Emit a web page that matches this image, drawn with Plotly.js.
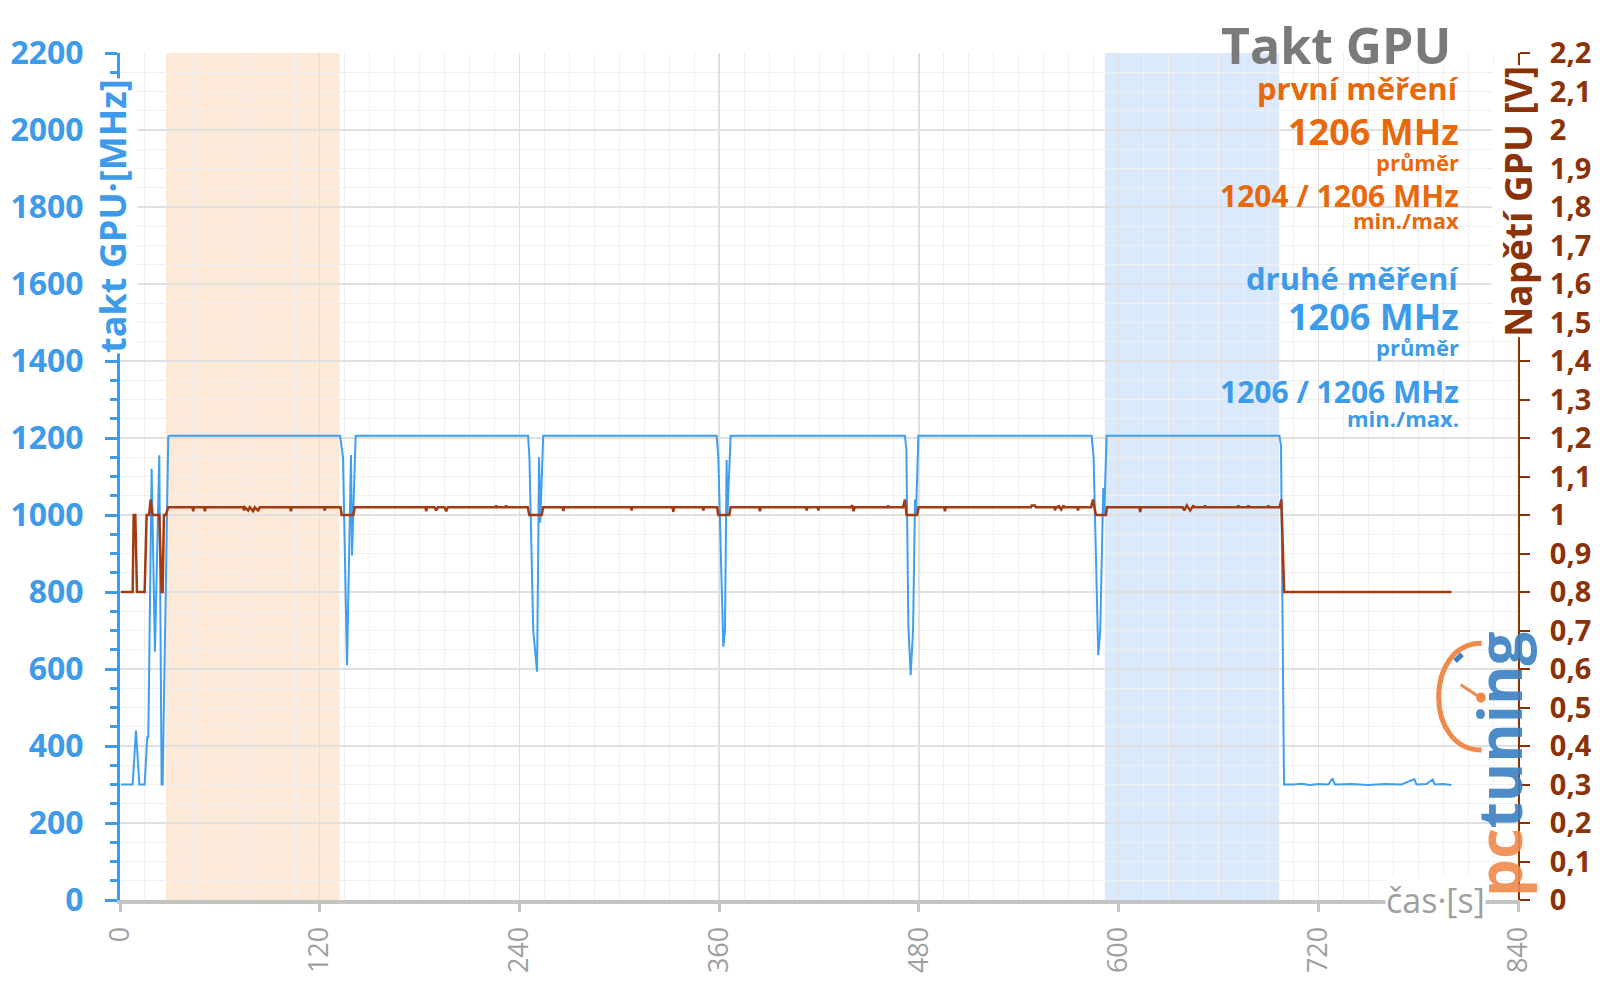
<!DOCTYPE html>
<html>
<head>
<meta charset="utf-8">
<script src="https://cdn.plot.ly/plotly-3.0.1.min.js"></script>
<style>
  html, body { margin: 0; padding: 0; background: #fff; }
  #myDiv { width: 1600px; height: 999px; }
</style>
</head>
<body>
<div id="myDiv"></div>
<script>
// takt GPU [MHz] - time in s
var clockTime = [0.5, 7.6, 9.6, 11.6, 14.8, 16.4, 17, 19, 21, 23.6, 25, 25.6, 29, 30,
  132.2, 133.5, 134, 136.4, 137.5, 138.8, 139.4, 141.6,
  245.2, 246, 248.3, 250.6, 251.8, 252.5, 254.3,
  358.5, 359.5, 362.5, 363.5, 364.5, 365, 366.9,
  471.6, 472.5, 473.7, 475.1, 476.5, 477.7, 478.3, 479.7,
  583.8, 585, 587.8, 589, 590.8, 591.4, 592.8,
  696.6, 697.6, 698.6, 699.4,
  705, 710, 715, 720, 726, 728.6, 730, 740, 750, 760, 770, 777.7, 779, 785, 788.7, 790, 795, 800];
var clockMHz = [300, 300, 440, 300, 300, 425, 420, 1120, 645, 1155, 300, 300, 1204, 1206,
  1206, 1160, 1150, 610, 900, 1156, 895, 1206,
  1206, 1150, 700, 593, 1150, 980, 1206,
  1206, 1150, 658, 700, 1143, 1000, 1206,
  1206, 1170, 710, 584, 700, 1040, 1000, 1206,
  1206, 1150, 636, 700, 1070, 1000, 1206,
  1206, 1180, 700, 300,
  300, 302, 299, 301, 300, 316, 300, 301, 299, 301, 300, 314, 300, 301, 313, 300, 301, 299];

// Napětí GPU [V]
var voltTime = [0.5, 7.6, 8.2, 9.2, 10.2, 14.8, 16, 17.5, 18.4, 19.6, 23.6, 25, 25.6, 26.4, 27.5, 29,
  43.5, 44, 44.5, 50.5, 51, 51.5, 74, 74.5, 75, 77, 78, 80, 81, 83, 84, 102.2, 102.7, 103.2, 122.5, 123, 123.5,
  132.5, 133.2, 140.2, 141,
  183.5, 184, 184.5, 189, 190, 191, 195, 196, 197, 225.5, 226, 226.5, 231.5, 232, 232.5,
  245, 245.9, 253.4, 254.2,
  266, 266.4, 266.8, 307, 307.4, 307.8, 332, 332.4, 333, 350, 350.5, 351,
  358.8, 359.5, 366.1, 366.9,
  384, 384.5, 385, 412.2, 412.6, 413, 419.2, 419.6, 420, 439, 440, 440.8, 441.5, 461, 461.5, 462, 470.5, 471.6, 472.6, 479, 479.8,
  495.2, 495.7, 496.2, 547.3, 547.8, 549.8, 550.3, 561.5, 561.8, 562.3, 563.5, 564, 565.5, 567, 567.5, 575.2, 575.6, 576, 583.5, 584.6, 586.4, 592.4, 593,
  612.5, 613, 613.5, 638.5, 639.5, 640.5, 641, 643, 644.5, 645, 645.5, 651.5, 652, 652.5, 671.5, 672, 672.5, 677.5, 678, 678.5, 689.5, 690, 690.5, 696.8, 697.8, 699.5, 800];
var voltV = [0.8, 0.8, 1.0, 1.0, 0.8, 0.8, 1.0, 1.0, 1.04, 1.0, 1.0, 0.8, 0.8, 1.0, 1.0, 1.02,
  1.02, 1.01, 1.02, 1.02, 1.01, 1.02, 1.02, 1.012, 1.02, 1.012, 1.02, 1.01, 1.02, 1.012, 1.02, 1.02, 1.01, 1.02, 1.02, 1.012, 1.02,
  1.02, 1.0, 1.0, 1.02,
  1.02, 1.01, 1.02, 1.02, 1.012, 1.02, 1.02, 1.01, 1.02, 1.02, 1.025, 1.02, 1.02, 1.025, 1.02,
  1.02, 1.0, 1.0, 1.02,
  1.02, 1.01, 1.02, 1.02, 1.012, 1.02, 1.02, 1.008, 1.02, 1.02, 1.012, 1.02,
  1.02, 1.0, 1.0, 1.02,
  1.02, 1.01, 1.02, 1.02, 1.012, 1.02, 1.02, 1.012, 1.02, 1.02, 1.025, 1.01, 1.02, 1.02, 1.025, 1.02, 1.02, 1.04, 1.0, 1.0, 1.02,
  1.02, 1.01, 1.02, 1.02, 1.025, 1.025, 1.02, 1.02, 1.012, 1.02, 1.02, 1.025, 1.014, 1.025, 1.02, 1.02, 1.012, 1.02, 1.02, 1.04, 1.0, 1.0, 1.02,
  1.02, 1.008, 1.02, 1.02, 1.012, 1.02, 1.025, 1.012, 1.02, 1.025, 1.02, 1.02, 1.025, 1.02, 1.02, 1.025, 1.02, 1.02, 1.025, 1.02, 1.02, 1.025, 1.02, 1.02, 1.04, 0.8, 0.8];

// measurement windows [s]
var firstWindow = [27.6, 131.8];
var secondWindow = [591.7, 696.5];

var xTicks = [0, 120, 240, 360, 480, 600, 720, 840];

var blue = '#3d9be9';
var orange = '#e8680c';
var brown = '#8c3209';
var font = '"Open Sans", Lato, sans-serif';

var trace1 = {
  x: clockTime,
  y: clockMHz,
  mode: 'lines',
  name: 'takt GPU',
  line: {color: '#3f9ef0', width: 2},
  hoverinfo: 'skip'
};

var trace2 = {
  x: voltTime,
  y: voltV,
  yaxis: 'y2',
  mode: 'lines',
  name: 'Napětí GPU',
  line: {color: '#a33b12', width: 2.5},
  hoverinfo: 'skip'
};

var data = [trace1, trace2];

function note(text, y, size, color, x) {
  return {
    xref: 'paper', yref: 'paper', x: x || 0.9585, y: y,
    xanchor: 'right', yanchor: 'middle', showarrow: false, borderpad: 0,
    text: text,
    font: {family: font, size: size, color: color, weight: 'bold'}
  };
}

var layout = {
  width: 1600,
  height: 999,
  margin: {l: 120, r: 82, t: 53, b: 99},
  paper_bgcolor: '#ffffff',
  plot_bgcolor: '#ffffff',
  showlegend: false,
  separators: ',.',
  font: {family: font},
  xaxis: {
    range: [0, 840],
    tickvals: xTicks,
    tickangle: -90,
    tickfont: {family: font, size: 27, color: '#9f9f9f'},
    ticks: 'outside', ticklen: 8, tickwidth: 3, tickcolor: '#c4c4c4',
    ticklabelstandoff: 4,
    showline: true, linecolor: '#c4c4c4', linewidth: 4,
    showgrid: true, gridcolor: '#e0e0e0', gridwidth: 1.5,
    minor: {dtick: 15, showgrid: true, gridcolor: '#f0f0f0', gridwidth: 1},
    zeroline: false,
    fixedrange: true
  },
  yaxis: {
    range: [0, 2200],
    dtick: 200,
    tickfont: {family: font, size: 32, color: blue, weight: 'bold'},
    ticks: 'outside', ticklen: 12, tickwidth: 3, tickcolor: blue,
    ticklabelstandoff: 15,
    showline: true, linecolor: blue, linewidth: 3,
    showgrid: true, gridcolor: '#e0e0e0', gridwidth: 1.5,
    minor: {dtick: 50, ticks: 'outside', ticklen: 7, tickwidth: 3, tickcolor: blue,
      showgrid: true, gridcolor: '#f0f0f0', gridwidth: 1},
    zeroline: false,
    fixedrange: true
  },
  yaxis2: {
    range: [0, 2.2],
    dtick: 0.1,
    overlaying: 'y',
    side: 'right',
    anchor: 'x',
    tickfont: {family: font, size: 29, color: brown, weight: 'bold'},
    ticks: 'outside', ticklen: 10, tickwidth: 2, tickcolor: brown,
    ticklabelstandoff: 14,
    showline: true, linecolor: brown, linewidth: 2,
    showgrid: false,
    zeroline: false,
    fixedrange: true
  },
  shapes: [
    {type: 'rect', xref: 'x', yref: 'paper', x0: firstWindow[0], x1: firstWindow[1], y0: 0, y1: 1,
      fillcolor: '#fde9d8', line: {width: 0}, layer: 'below'},
    {type: 'rect', xref: 'x', yref: 'paper', x0: secondWindow[0], x1: secondWindow[1], y0: 0, y1: 1,
      fillcolor: '#dae9fb', line: {width: 0}, layer: 'below'},
    // logo clock
    {type: 'path', xref: 'paper', yref: 'paper',
      path: 'M 0.974 0.303 C 0.933 0.303, 0.933 0.177, 0.974 0.177',
      line: {color: '#f08a4b', width: 5}},
    {type: 'line', xref: 'paper', yref: 'paper', x0: 0.959, y0: 0.254, x1: 0.973, y1: 0.239,
      line: {color: '#f08a4b', width: 3}},
    {type: 'circle', xref: 'paper', yref: 'paper', x0: 0.970, y0: 0.233, x1: 0.977, y1: 0.245,
      fillcolor: '#f08a4b', line: {width: 0}},
    {type: 'line', xref: 'paper', yref: 'paper', x0: 0.955, y0: 0.282, x1: 0.960, y1: 0.290,
      line: {color: '#3b7fc4', width: 5}}
  ],
  annotations: [
    note('Takt GPU', 1.01, 50, '#7a7a7a', 0.953),
    note('první měření', 0.9587, 31, orange),
    note('1206 MHz', 0.9075, 36, orange),
    note('průměr', 0.8715, 22, orange),
    note('1204 / 1206 MHz', 0.8315, 30, orange),
    note('min./max', 0.8025, 22, orange),
    note('druhé měření', 0.7344, 31, blue),
    note('1206 MHz', 0.689, 36, blue),
    note('průměr', 0.653, 22, blue),
    note('1206 / 1206 MHz', 0.600, 30, blue),
    note('min./max.', 0.5695, 22, blue),
    {xref: 'paper', yref: 'paper', x: 0, xshift: -7, y: 0.8076, textangle: -90,
      xanchor: 'center', yanchor: 'middle', showarrow: false, bgcolor: '#ffffff', borderpad: 0,
      text: 'takt GPU·[MHz]', font: {family: font, size: 36, color: blue, weight: 'bold'}},
    {xref: 'paper', yref: 'paper', x: 1, y: 0.8244, textangle: -90,
      xanchor: 'center', yanchor: 'middle', showarrow: false, bgcolor: '#ffffff', borderpad: 0,
      text: 'Napětí GPU [V]', font: {family: font, size: 37, color: brown, weight: 'bold'}},
    {xref: 'paper', yref: 'paper', x: 0.941, y: 0,
      xanchor: 'center', yanchor: 'middle', showarrow: false, bgcolor: '#ffffff', borderpad: 0,
      text: 'čas·[s]', font: {family: font, size: 34, color: '#9f9f9f'}},
    {xref: 'paper', yref: 'paper', x: 0.986, y: 0.001, textangle: -90,
      xanchor: 'center', yanchor: 'bottom', showarrow: false, opacity: 0.9,
      text: '<span style="color:#f08a4b">pc</span><span style="color:#3b7fc4">tuning</span>',
      font: {family: font, size: 60, weight: 'bold'}}
  ]
};

Plotly.newPlot('myDiv', data, layout, {displayModeBar: false, staticPlot: true});
</script>
</body>
</html>
